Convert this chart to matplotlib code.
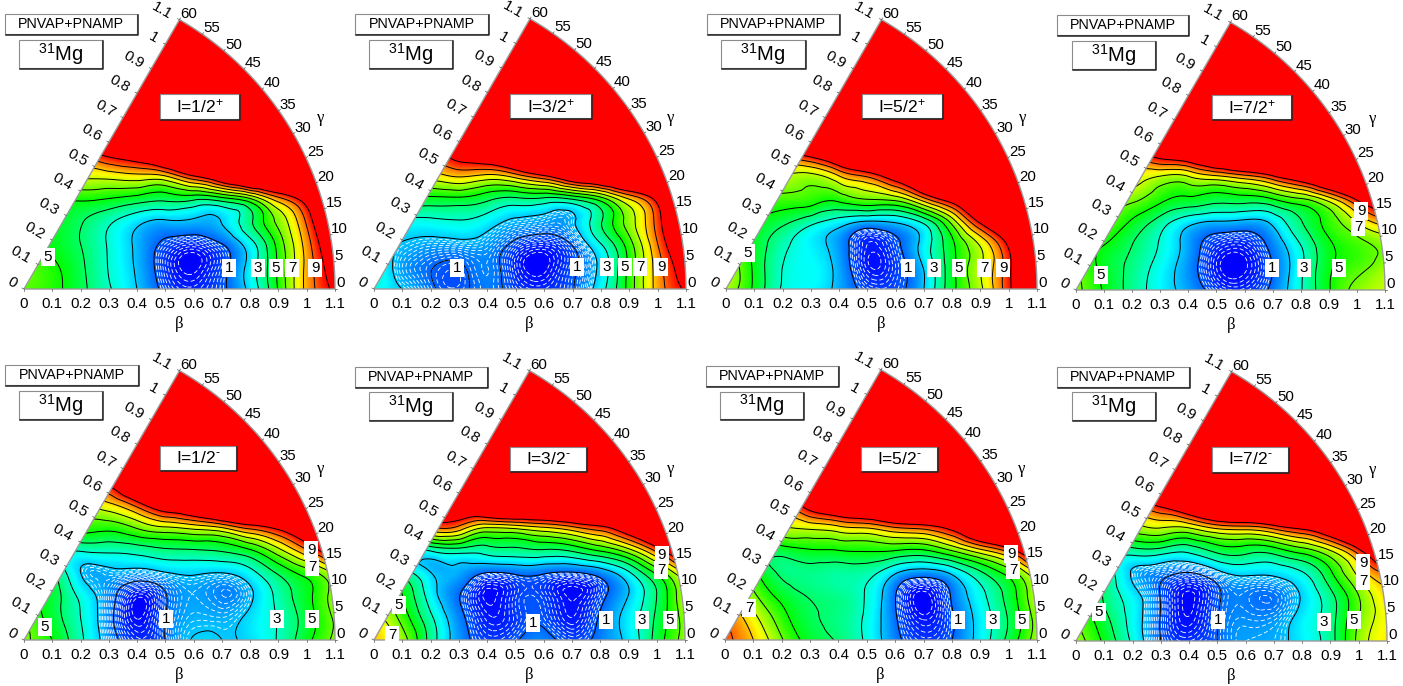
import numpy as np
from matplotlib import pyplot as plt
from matplotlib import tri
from matplotlib.colors import LinearSegmentedColormap
from matplotlib.patches import Polygon, Rectangle

plt.rcParams['font.family'] = ['Liberation Sans', 'DejaVu Sans']
plt.rcParams['mathtext.fontset'] = 'custom'
plt.rcParams['mathtext.rm'] = 'Liberation Sans'
plt.rcParams['mathtext.default'] = 'regular'

W, H = 1403, 686

# grid the energies were read on: x = beta cos(gamma), y = beta sin(gamma)
grid_x = [0, 0.1, 0.2, 0.3, 0.4, 0.5, 0.6, 0.7, 0.8, 0.9, 1.0, 1.1]
grid_y = [0, 0.08, 0.16, 0.24, 0.32, 0.40, 0.48, 0.56, 0.72, 1.0]
red_row = [14] * 12

e_1_2_plus = [
    [5.8, 5.3, 4.3, 3.1, 2.0, 0.75, 0.35, 0.85, 2.3, 5.1, 8.3, 10.3],
    [6.0, 5.2, 4.2, 2.95, 1.85, 0.5, 0.02, 0.7, 2.4, 5.2, 8.3, 11],
    [5.5, 4.8, 4.0, 2.9, 1.8, 0.8, 0.45, 1.0, 2.6, 5.4, 8.5, 12],
    [5.0, 4.8, 4.1, 3.2, 2.3, 1.9, 1.85, 2.05, 3.8, 6.3, 9.2, 13],
    [5.3, 5.2, 5.2, 5.0, 4.6, 4.3, 4.3, 4.7, 6.0, 8.7, 11, 14],
    [7.0, 7.0, 7.2, 7.4, 7.7, 8.0, 10.0, 12, 14, 14, 14, 14],
    [9.5, 9.5, 9.5, 10.5, 11.5, 13, 14, 14, 14, 14, 14, 14],
    [13, 13, 13, 13, 14, 14, 14, 14, 14, 14, 14, 14],
]
e_3_2_plus = [
    [2.7, 2.0, 1.15, 0.85, 1.25, 0.65, 0.4, 0.95, 2.6, 5.4, 8.4, 10.2],
    [3.2, 1.6, 1.05, 0.9, 1.3, 0.35, 0.02, 0.8, 2.3, 5.3, 8.5, 11],
    [2.5, 1.95, 1.7, 1.75, 1.6, 0.8, 0.45, 1.1, 3.0, 5.6, 9.0, 12],
    [3.0, 2.8, 2.8, 2.95, 2.5, 1.85, 1.65, 1.85, 3.9, 6.5, 9.5, 13],
    [5.0, 5.0, 4.8, 4.85, 4.3, 3.9, 3.9, 4.3, 5.7, 8.2, 10.7, 14],
    [7.5, 7.5, 7.5, 8.2, 7.8, 8.6, 10, 12, 13, 14, 14, 14],
    [10, 10, 10, 10.9, 12, 13, 14, 14, 14, 14, 14, 14],
    [13, 13, 13, 13, 14, 14, 14, 14, 14, 14, 14, 14],
]
e_5_2_plus = [
    [6.7, 4.8, 2.9, 2.5, 1.7, 0.75, 0.75, 2.0, 4.7, 6.8, 9.7, 13],
    [7.0, 4.8, 3.0, 2.55, 1.65, 0.25, 0.6, 2.1, 4.7, 6.9, 9.7, 14],
    [6.0, 4.7, 3.3, 2.4, 1.5, 0.3, 0.8, 2.4, 4.8, 7.2, 10.3, 14],
    [5.5, 5.0, 4.3, 3.4, 2.6, 2.0, 2.2, 3.4, 6.5, 10.4, 12.5, 14],
    [6.0, 5.8, 5.7, 5.5, 5.4, 6.1, 6.5, 8.8, 11, 13, 14, 14],
    [7.0, 7.0, 7.0, 6.7, 8.0, 9.2, 11, 13, 14, 14, 14, 14],
    [10, 10, 10, 10.8, 12.5, 14, 14, 14, 14, 14, 14, 14],
    [14, 14, 14, 14, 14, 14, 14, 14, 14, 14, 14, 14],
]
e_7_2_plus = [
    [6.3, 4.9, 3.6, 2.5, 1.6, 0.65, 0.45, 1.2, 2.9, 4.9, 6.3, 6.9],
    [6.0, 4.7, 3.7, 2.6, 1.45, 0.2, 0.05, 1.0, 2.8, 4.8, 5.7, 6.5],
    [5.5, 5.0, 4.0, 2.9, 1.6, 0.5, 0.35, 1.3, 3.0, 4.8, 5.6, 6.3],
    [6.0, 6.0, 4.8, 3.5, 2.3, 1.85, 1.7, 2.2, 3.9, 5.4, 7.0, 8.5],
    [6.5, 6.5, 6.2, 5.2, 4.7, 4.3, 4.4, 4.8, 5.7, 7.3, 10, 12],
    [7.5, 7.5, 7.5, 6.8, 6.8, 7.5, 8.3, 9.5, 11, 13, 14, 14],
    [9.5, 9.5, 9.5, 10.6, 11.6, 13, 14, 14, 14, 14, 14, 14],
    [13, 13, 13, 13, 14, 14, 14, 14, 14, 14, 14, 14],
]
e_1_2_minus = [
    [6.2, 5.0, 3.2, 1.5, 0.45, 1.0, 2.05, 2.0, 2.2, 3.1, 4.7, 6.3],
    [6.0, 4.5, 3.0, 1.3, 0.08, 1.0, 1.75, 1.7, 2.2, 3.1, 4.5, 6.2],
    [5.0, 4.5, 2.7, 1.4, 0.2, 0.95, 1.6, 1.3, 1.85, 3.3, 4.7, 6.5],
    [4.0, 4.0, 2.0, 1.8, 1.7, 2.0, 2.15, 2.05, 2.7, 4.2, 5.5, 7.0],
    [3.5, 3.3, 3.2, 3.3, 3.5, 3.9, 4.0, 4.2, 5.0, 6.8, 9.0, 12],
    [5.5, 5.5, 5.5, 5.4, 6.2, 7.0, 7.5, 8.2, 9.5, 10.5, 12, 14],
    [7.0, 7.0, 7.0, 7.8, 9.5, 11.5, 12.5, 14, 14, 14, 14, 14],
    [10, 10, 10, 10.6, 13, 14, 14, 14, 14, 14, 14, 14],
]
e_3_2_minus = [
    [8.0, 6.5, 3.6, 1.5, 0.6, 0.9, 1.3, 0.7, 1.3, 2.3, 4.4, 6.5],
    [7.5, 5.6, 3.2, 1.3, 0.25, 0.55, 0.8, 0.2, 1.1, 2.4, 4.2, 6.5],
    [6.0, 5.0, 2.5, 1.05, 0.05, 0.55, 0.6, 0.05, 0.7, 2.0, 4.0, 7.0],
    [3.5, 3.5, 2.0, 1.7, 1.05, 1.2, 1.15, 1.0, 1.5, 2.9, 5.3, 8.0],
    [3.0, 3.0, 3.3, 3.7, 3.6, 3.8, 4.0, 4.3, 5.3, 6.8, 9.5, 13],
    [9.0, 9.0, 9.0, 8.8, 7.2, 7.5, 8.1, 8.9, 9.8, 11.5, 13, 14],
    [11, 11, 11, 12, 13.5, 14, 14, 14, 14, 14, 14, 14],
    [14, 14, 14, 14, 14, 14, 14, 14, 14, 14, 14, 14],
]
e_5_2_minus = [
    [9.3, 8.0, 6.1, 4.6, 3.9, 2.8, 1.3, 0.55, 1.0, 2.4, 4.3, 6.6],
    [9.0, 7.3, 5.4, 4.2, 3.7, 2.8, 1.1, 0.15, 0.9, 2.4, 4.1, 6.5],
    [8.0, 6.2, 4.6, 3.9, 3.6, 2.9, 1.05, 0.02, 1.1, 2.7, 4.4, 7.0],
    [5.0, 5.0, 3.8, 3.7, 3.5, 3.4, 2.2, 1.6, 2.3, 3.9, 5.5, 8.0],
    [4.6, 4.6, 4.6, 5.0, 5.1, 5.2, 5.2, 5.1, 6.3, 8.0, 9.7, 13],
    [7.0, 7.0, 7.0, 7.4, 7.9, 8.3, 9.2, 9.6, 10.7, 13, 14, 14],
    [9.0, 9.0, 9.0, 11, 12.5, 13, 14, 14, 14, 14, 14, 14],
    [13, 13, 13, 13, 14, 14, 14, 14, 14, 14, 14, 14],
]
e_7_2_minus = [
    [6.6, 4.8, 2.8, 1.0, 0.5, 1.0, 1.6, 1.7, 2.4, 3.6, 6.3, 7.7],
    [6.0, 4.3, 2.6, 0.95, 0.12, 0.95, 1.4, 1.45, 2.35, 3.6, 6.0, 7.5],
    [5.5, 3.9, 2.4, 0.95, 0.05, 0.85, 1.25, 1.15, 2.1, 3.7, 6.0, 8.0],
    [3.6, 3.6, 1.9, 1.3, 0.95, 1.7, 2.2, 2.2, 2.9, 4.8, 7.3, 9.0],
    [3.6, 3.6, 3.6, 3.6, 3.3, 4.3, 4.4, 4.5, 5.5, 7.0, 9.7, 13],
    [6.5, 6.5, 6.5, 7.0, 7.0, 8.2, 8.5, 9.3, 10.3, 12, 14, 14],
    [9.0, 9.0, 9.0, 10.3, 12, 13.5, 14, 14, 14, 14, 14, 14],
    [13, 13, 13, 14, 14, 14, 14, 14, 14, 14, 14, 14],
]
energies = [e_1_2_plus, e_3_2_plus, e_5_2_plus, e_7_2_plus,
            e_1_2_minus, e_3_2_minus, e_5_2_minus, e_7_2_minus]

spin_labels = ['I=1/2$^{+}$', 'I=3/2$^{+}$', 'I=5/2$^{+}$', 'I=7/2$^{+}$',
               'I=1/2$^{\\text{-}}$', 'I=3/2$^{\\text{-}}$', 'I=5/2$^{\\text{-}}$', 'I=7/2$^{\\text{-}}$']
# white dashes run up to this level
dash_top = [1, 2, 1, 1, 2, 1, 1, 2]

beta_ticks = [0, 0.1, 0.2, 0.3, 0.4, 0.5, 0.6, 0.7, 0.8, 0.9, 1, 1.1]
gamma_ticks = [0, 5, 10, 15, 20, 25, 30, 35, 40, 45, 50, 55, 60]

# layout, in pixels of the picture: origin x, origin y, length of the beta axis
origins = [(24, 289, 311), (374, 289, 312), (726, 289, 311), (1076, 290, 309),
           (24, 640, 311), (374, 640, 311), (725, 640, 312), (1076, 641, 311)]
tag_boxes = [(5, 14, 137, 34), (355, 14, 488, 34), (707, 14, 839, 34), (1057, 15, 1188, 35),
             (5, 365, 138, 385), (355, 367, 487, 387), (706, 366, 838, 386), (1057, 367, 1189, 387)]
mg_boxes = [(19, 40, 102, 68), (369, 40, 452, 68), (721, 40, 805, 68), (1072, 41, 1155, 69),
            (19, 391, 102, 419), (369, 392, 452, 420), (720, 392, 803, 419), (1072, 392, 1155, 420)]
spin_boxes = [(160, 94, 239, 119), (510, 94, 591, 118), (862, 94, 942, 118), (1212, 95, 1291, 119),
              (160, 446, 236, 470), (510, 447, 586, 471), (861, 447, 937, 471), (1212, 447, 1288, 472)]
contour_tags = [
    [('5', 48, 257), ('1', 229, 268), ('3', 258, 268), ('5', 276, 268), ('7', 292, 268), ('9', 315, 268)],
    [('1', 457, 268), ('1', 577, 267), ('3', 607, 267), ('5', 625, 267), ('7', 640, 267), ('9', 661, 267)],
    [('5', 748, 253), ('1', 908, 268), ('3', 934, 268), ('5', 959, 268), ('7', 984, 268), ('9', 1003, 268)],
    [('5', 1101, 275), ('1', 1272, 268), ('3', 1304, 268), ('5', 1339, 268), ('7', 1358, 227), ('9', 1361, 211)],
    [('5', 45, 627), ('1', 166, 619), ('3', 277, 619), ('5', 312, 619), ('7', 312, 567), ('9', 311, 550)],
    [('7', 392, 635), ('5', 399, 605), ('1', 533, 623), ('1', 606, 620), ('3', 642, 620), ('5', 670, 620),
     ('7', 661, 570), ('9', 662, 555)],
    [('7', 749, 608), ('1', 958, 620), ('3', 993, 620), ('5', 1022, 620), ('7', 1013, 570), ('9', 1011, 554)],
    [('5', 1099, 612), ('1', 1218, 620), ('3', 1324, 622), ('5', 1354, 620), ('7', 1363, 581), ('9', 1363, 563)],
]

rainbow = LinearSegmentedColormap.from_list(
    'small_rainbow', ['#0000ff', '#00ffff', '#00ff00', '#ffff00', '#ff0000'])


def wedge_outline():
    angles = np.radians(np.linspace(0, 60, 121))
    arc = np.column_stack([1.1 * np.cos(angles), 1.1 * np.sin(angles)])
    return np.vstack([[0, 0], arc])


def smooth_field(rows):
    xs, ys = np.meshgrid(grid_x, grid_y)
    z = np.array(rows + [red_row, red_row], dtype=float)
    mesh = tri.Triangulation(xs.ravel(), ys.ravel())
    smooth = tri.CubicTriInterpolator(mesh, z.ravel(), kind='min_E')
    fx, fy = np.meshgrid(np.linspace(0, 1.1, 560), np.linspace(0, 1.0, 500))
    return fx, fy, smooth(fx, fy)


def draw_panel(fig, ov, i):
    ox, oy, length = origins[i]
    px = length / 1.1
    height = 1.1 * np.sin(np.radians(60))
    ax = fig.add_axes([ox / W, (H - oy) / H, length / W, height * px / H])
    ax.set_xlim(0, 1.1)
    ax.set_ylim(0, height)
    ax.axis('off')

    fx, fy, fz = smooth_field(energies[i])
    outline = Polygon(wedge_outline(), closed=True, fc='none', ec='#9a9a9a', lw=1.0,
                      transform=ax.transData, clip_on=False, zorder=5)
    ax.add_patch(outline)
    img = ax.imshow(fz, origin='lower', extent=(0, 1.1, 0, 1.0), cmap=rainbow, vmin=0, vmax=10,
                    aspect='auto', interpolation='bilinear')
    ax.set_xlim(0, 1.1)
    ax.set_ylim(0, height)
    img.set_clip_path(outline)
    dashes = np.arange(0.1, dash_top[i] - 0.05, 0.1)
    white = ax.contour(fx, fy, fz, levels=dashes, colors='white', linewidths=0.6, linestyles=[(0, (5, 3))])
    white.set_clip_path(outline)
    black = ax.contour(fx, fy, fz, levels=list(range(1, 11)), colors='black', linewidths=0.7,
                       linestyles='-')
    black.set_clip_path(outline)

    # beta axis along the bottom and along the left edge
    for b in beta_ticks:
        x0 = ox + b * px
        ov.plot([x0, x0], [oy, oy + 2], color='#555555', lw=0.5)
        ov.text(x0, oy + 15, str(b), ha='center', va='center', fontsize=10.8)
        ex, ey = ox + b * px * 0.5, oy - b * px * 0.866
        ov.plot([ex, ex - 2], [ey, ey - 1], color='#555555', lw=0.5)
        ov.text(ex - 8.5, ey - 4, str(b), ha='right', va='center', fontsize=10.8,
                rotation=-30, rotation_mode='anchor')
    # gamma along the arc
    for g in gamma_ticks:
        a = np.radians(g)
        ax0, ay0 = ox + length * np.cos(a), oy - length * np.sin(a)
        ov.plot([ax0, ax0 + 2 * np.cos(a)], [ay0, ay0 - 2 * np.sin(a)], color='#555555', lw=0.5)
        ov.text(ax0 + 1, ay0 - 6, str(g), ha='left', va='center', fontsize=10.8)
    ov.text(ox + 155, oy + 35, '\u03b2', ha='center', va='center', fontsize=12, family='Liberation Serif')
    ov.text(ox + 297, oy - 171, '\u03b3', ha='center', va='center', fontsize=12, family='Liberation Serif')

    # contour number tags
    for text, tx, ty in contour_tags[i]:
        ov.text(tx, ty, text, ha='center', va='center', fontsize=11, zorder=6,
                bbox=dict(boxstyle='square,pad=0.16', fc='white', ec='none'))

    # the three framed labels
    framed(ov, tag_boxes[i], 'PNVAP+PNAMP', 10.3)
    framed(ov, mg_boxes[i], '$^{31}$Mg', 14.5)
    framed(ov, spin_boxes[i], spin_labels[i], 12.5)


def framed(ov, box, text, size):
    x0, y0, x1, y1 = box
    ov.add_patch(Rectangle((x0, y0), x1 - x0, y1 - y0, fc='white', ec='#8c8c8c', lw=0.8, zorder=7))
    ov.plot([x0 + 1, x1 + 1, x1 + 1], [y1 + 1, y1 + 1, y0 + 1], color='#222222', lw=1.1, zorder=7)
    ov.text((x0 + x1) / 2, (y0 + y1) / 2, text, ha='center', va='center', fontsize=size, zorder=8)


def main():
    fig = plt.figure(figsize=(W / 100, H / 100), dpi=100)
    ov = fig.add_axes([0, 0, 1, 1], zorder=10)
    ov.set_xlim(0, W)
    ov.set_ylim(H, 0)
    ov.axis('off')
    for i in range(len(energies)):
        draw_panel(fig, ov, i)
    fig.savefig('out.png', dpi=100)


if __name__ == '__main__':
    main()
